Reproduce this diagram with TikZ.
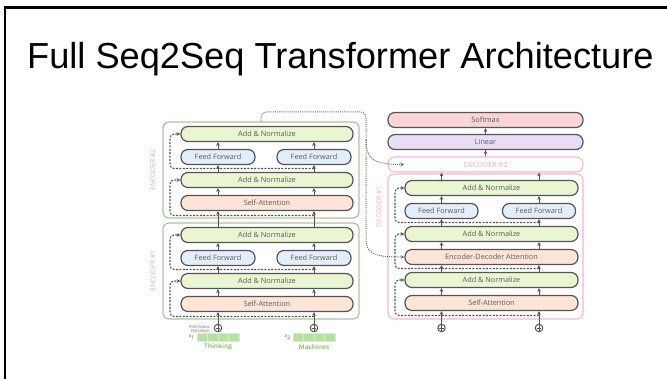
\documentclass[tikz,border=0pt]{standalone}
\usepackage{fontspec}
\setmainfont{Liberation Sans}
\newfontfamily\diagfont{Open Sans}
\usetikzlibrary{arrows.meta}

\definecolor{edge}{HTML}{555555}
\definecolor{txt}{HTML}{5A5A5A}
\definecolor{addfill}{HTML}{EAF6D2}
\definecolor{fffill}{HTML}{E2EEFA}
\definecolor{attfill}{HTML}{FCE5D6}
\definecolor{smfill}{HTML}{FAD5D5}
\definecolor{linfill}{HTML}{E9DCF5}
\definecolor{encedge}{HTML}{A9C59E}
\definecolor{enclabel}{HTML}{ADC6A3}
\definecolor{decedge}{HTML}{F5B8C8}
\definecolor{declabel}{HTML}{F0AEC0}
\definecolor{cellfill}{HTML}{B6E0A0}
\definecolor{cellline}{HTML}{D8EFCB}
\definecolor{wordgreen}{HTML}{8DC574}
\definecolor{linkgray}{HTML}{6A6A6A}

\begin{document}
\begin{tikzpicture}[x=1pt,y=-1pt,
  layer/.style={draw=edge, line width=1.2pt, rounded corners=7pt, minimum height=15pt,
    inner sep=0pt, font=\diagfont\fontsize{7.3}{8}\selectfont, text=txt},
  wide/.style={layer, minimum width=172pt},
  half/.style={layer, minimum width=74pt},
  full/.style={layer, minimum width=195pt},
  addnorm/.style={wide, fill=addfill},
  ffwd/.style={half, fill=fffill},
  attn/.style={wide, fill=attfill},
  encframe/.style={draw=encedge, line width=1.2pt, rounded corners=6pt, fill=white, inner sep=0pt},
  decframe/.style={draw=decedge, line width=1.1pt, rounded corners=6pt, fill=white, inner sep=0pt},
  sidelabel/.style={rotate=90, inner sep=0pt, font=\diagfont\fontsize{6.8}{7}\selectfont},
  up/.style={draw=edge, line width=1pt, -{Stealth[length=3.8pt,width=3.8pt]}},
  res/.style={draw=edge, line width=1.1pt, dash pattern=on 2pt off 1.4pt,
    rounded corners=4pt, -{Stealth[length=3.8pt,width=3.8pt]}},
  link/.style={draw=linkgray, line width=1pt, dash pattern=on 1pt off 1.1pt},
  plus/.style={circle, draw=edge, line width=1pt, fill=white, minimum size=7.5pt, inner sep=0pt,
    path picture={\draw[edge, line width=0.9pt]
      ([yshift=1.4pt]path picture bounding box.north) -- ([yshift=-1.4pt]path picture bounding box.south)
      ([xshift=1.4pt]path picture bounding box.west) -- ([xshift=-1.4pt]path picture bounding box.east);}},
  cell/.style={draw=cellline, line width=0.5pt, fill=cellfill, minimum width=10.5pt, minimum height=8pt, inner sep=0pt},
  tiny/.style={inner sep=0pt, text=txt, font=\diagfont\fontsize{3.6}{4}\selectfont, align=right},
  word/.style={inner sep=0pt, text=wordgreen, font=\diagfont\bfseries\fontsize{6.4}{7}\selectfont}
]
\useasboundingbox (0,0) rectangle (667,379);

% slide frame and title
\draw[line width=2.2pt] (5,390) -- (5,7.5) -- (680,7.5);
\node[anchor=base west, inner sep=0pt, font=\fontsize{36.2}{40}\selectfont] (title) at (27,69)
  {Full Seq2Seq Transformer Architecture};

% ---------- encoder frames ----------
\node[encframe, minimum width=196pt, minimum height=96pt] (enc2) at (261,170) {};
\node[encframe, minimum width=196pt, minimum height=96pt] (enc1) at (261,271) {};
\node[sidelabel, text=enclabel] (enc2lbl) at (153,170) {ENCODER \#2};
\node[sidelabel, text=enclabel] (enc1lbl) at (153,271) {ENCODER \#1};

% encoder #2 layers
\node[addnorm] (e2an2) at (267,134) {Add \& Normalize};
\node[ffwd]    (e2ffl) at (218,157) {Feed Forward};
\node[ffwd]    (e2ffr) at (314,157) {Feed Forward};
\node[addnorm] (e2an1) at (267,180) {Add \& Normalize};
\node[attn]    (e2sa)  at (267,203) {Self-Attention};

% encoder #1 layers
\node[addnorm] (e1an2) at (267,235) {Add \& Normalize};
\node[ffwd]    (e1ffl) at (218,258) {Feed Forward};
\node[ffwd]    (e1ffr) at (314,258) {Feed Forward};
\node[addnorm] (e1an1) at (267,281) {Add \& Normalize};
\node[attn]    (e1sa)  at (267,304) {Self-Attention};

% encoder inputs
\node[plus] (ep1) at (218,328) {};
\node[plus] (ep2) at (314,328) {};
\node[tiny, anchor=east] (posenc) at (210,329) {POSITIONAL\\ENCODING};
\foreach \i in {0,...,3} {
  \node[cell] (xa\i) at (202.25+10.5*\i,337) {};
  \node[cell] (xb\i) at (298.25+10.5*\i,337) {};
}
\node[tiny, anchor=east, font=\diagfont\fontsize{5}{6}\selectfont] (x1lbl) at (195,337) {x\textsubscript{1}};
\node[tiny, anchor=east, font=\diagfont\fontsize{5}{6}\selectfont] (x2lbl) at (291,337) {x\textsubscript{2}};
\node[word] (w1) at (218,347) {Thinking};
\node[word] (w2) at (314,347) {Machines};

% ---------- decoder ----------
\node[full, fill=smfill]  (soft) at (485.5,120) {Softmax};
\node[full, fill=linfill] (lin)  at (485.5,142) {Linear};
\node[full, draw=decedge, line width=1.1pt, fill=white, text=declabel] (dec2) at (485.5,164.5) {DECODER \#2};
\node[decframe, minimum width=195pt, minimum height=145pt] (dec1) at (485.5,246.5) {};
\node[sidelabel, text=declabel] (dec1lbl) at (379,207) {DECODER \#1};

\node[addnorm, minimum width=173pt] (dan3) at (491.5,188) {Add \& Normalize};
\node[ffwd, minimum width=73pt]     (dffl) at (441.5,211) {Feed Forward};
\node[ffwd, minimum width=73pt]     (dffr) at (539,211)   {Feed Forward};
\node[addnorm, minimum width=173pt] (dan2) at (491.5,234) {Add \& Normalize};
\node[attn, minimum width=173pt]    (deda) at (491.5,257) {Encoder-Decoder Attention};
\node[addnorm, minimum width=173pt] (dan1) at (491.5,280) {Add \& Normalize};
\node[attn, minimum width=173pt]    (dsa)  at (491.5,303) {Self-Attention};

\node[plus] (dp1) at (441.5,328) {};
\node[plus] (dp2) at (539,328) {};

% ---------- vertical flow arrows ----------
\foreach \c in {e2ffl,e2ffr} {
  \draw[up] (e1an2.north -| \c) -- (e2sa.south -| \c);
  \draw[up] (e2sa.north -| \c) -- (e2an1.south -| \c);
  \draw[up] (e2an1.north -| \c) -- (\c.south);
  \draw[up] (\c.north) -- (e2an2.south -| \c);
}
\foreach \c/\p in {e1ffl/ep1,e1ffr/ep2} {
  \draw[up] (\p.north) -- (e1sa.south -| \c);
  \draw[up] (e1sa.north -| \c) -- (e1an1.south -| \c);
  \draw[up] (e1an1.north -| \c) -- (\c.south);
  \draw[up] (\c.north) -- (e1an2.south -| \c);
}
\foreach \c/\p in {dffl/dp1,dffr/dp2} {
  \draw[up] (\p.north) -- (dsa.south -| \c);
  \draw[up] (dsa.north -| \c) -- (dan1.south -| \c);
  \draw[up] (dan1.north -| \c) -- (deda.south -| \c);
  \draw[up] (deda.north -| \c) -- (dan2.south -| \c);
  \draw[up] (dan2.north -| \c) -- (\c.south);
  \draw[up] (\c.north) -- (dan3.south -| \c);
  \draw[up] (dan3.north -| \c) -- (dec2.south -| \c);
}
\draw[up] (dec2.north) -- (lin.south);
\draw[up] (lin.north) -- (soft.south);

% ---------- residual connections ----------
\coordinate (e2r1) at (314,215.5);  \coordinate (e2k1) at (170,180);
\coordinate (e2r2) at (314,168.5);  \coordinate (e2k2) at (170,134);
\coordinate (e1r1) at (314,316.5);  \coordinate (e1k1) at (170,281);
\coordinate (e1r2) at (314,269.5);  \coordinate (e1k2) at (170,235);
\draw[res] (e2r1) -| (e2k1) -- (e2an1.west);
\draw[res] (e2r2) -| (e2k2) -- (e2an2.west);
\draw[res] (e1r1) -| (e1k1) -- (e1an1.west);
\draw[res] (e1r2) -| (e1k2) -- (e1an2.west);

\coordinate (dr1) at (539,315.5);  \coordinate (dk1) at (395,280);
\coordinate (dr2) at (539,268.5);  \coordinate (dk2) at (395,234);
\coordinate (dr3) at (539,222.5);  \coordinate (dk3) at (395,188);
\draw[res] (dr1) -| (dk1) -- (dan1.west);
\draw[res] (dr2) -| (dk2) -- (dan2.west);
\draw[res] (dr3) -| (dk3) -- (dan3.west);

% ---------- encoder output to the decoders ----------
\coordinate (kturn) at (366,112);
\coordinate (kbr) at (366,140);
\coordinate (kdn) at (366,238);
\coordinate (d2in) at (404,164.5);
\draw[link, rounded corners=5pt] (enc2.north) |- (kturn) -- (kbr);
\draw[link, -{Stealth[length=3.8pt,width=3.8pt]}] (kbr) .. controls (366,158) and (372,164.5) .. (d2in);
\draw[link, -{Stealth[length=3.8pt,width=3.8pt]}] (kbr) -- (kdn) .. controls (366,253) and (372,257) .. (deda.west);
\end{tikzpicture}
\end{document}
